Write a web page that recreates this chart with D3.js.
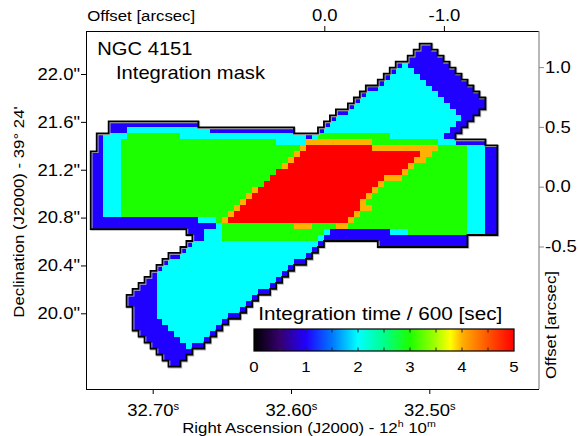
<!DOCTYPE html>
<html>
<head>
<meta charset="utf-8">
<script src="https://cdn.jsdelivr.net/npm/d3@7"></script>
<style>
  body { margin: 0; background: #fff; }
  text { font-family: "Liberation Sans", Arial, Helvetica, sans-serif; fill: #000; }
</style>
</head>
<body>
<svg id="chart" width="578" height="436"></svg>
<script>
// Integration mask of NGC 4151: integration time / 600 s per 0.05" pixel.
// Each row lists runs "firstCol-lastCol:value", row 0 is the northern edge.
const maskRows = [
  "55-56:1",
  "54-57:1",
  "53-58:1",
  "51:1 52:2 53-59:1",
  "50:1 51-53:2 54-60:1",
  "49:1 50-54:2 55-61:1",
  "48:1 49-55:2 56-62:1",
  "46-47:1 48-56:2 57-63:1",
  "45:1 46-57:2 58-64:1",
  "44:1 45-58:2 59-65:1",
  "43:1 44-59:2 60-65:1",
  "41-42:1 43-60:2 61-64:1",
  "40:1 41-61:2 62-63:1",
  "3-17:1 39:1 40-60:2 61-62:1",
  "3-5:1 6-19:2 20-33:1 38:1 39-59:2 60-61:1",
  "1:1 2-5:2 6-14:3 15-35:2 36:1 37:2 38-49:3 50-58:2 59-60:1",
  "1:1 2-4:2 5-30:3 31-35:2 36-46:4 47-57:3 58-60:2 61-65:1",
  "1:1 2-4:2 5-34:3 35:4 36-46:5 47-57:4 58-62:3 63-65:2 66-67:1",
  "0-1:1 2-4:2 5-33:3 34:4 35-54:5 55-56:4 57-62:3 63-65:2 66-67:1",
  "0-1:1 2-4:2 5-32:3 33:4 34-53:5 54-55:4 56-62:3 63-65:2 66-67:1",
  "0-1:1 2-4:2 5-31:3 32:4 33-52:5 53:4 54-62:3 63-65:2 66-67:1",
  "0-1:1 2-4:2 5-30:3 31-51:5 52:4 53-62:3 63-65:2 66-67:1",
  "0-1:1 2-4:2 5-29:3 30-48:5 49-51:4 52-62:3 63-65:2 66-67:1",
  "0-1:1 2-4:2 5-28:3 29-47:5 48:4 49-62:3 63-65:2 66-67:1",
  "0-1:1 2-4:2 5-26:3 27:4 28-46:5 47:4 48-62:3 63-65:2 66-67:1",
  "0-1:1 2-4:2 5-25:3 26:4 27-45:5 46:4 47-62:3 63-65:2 66-67:1",
  "0-1:1 2-4:2 5-24:3 25:4 26-44:5 45:4 46-62:3 63-65:2 66-67:1",
  "0-1:1 2-4:2 5-23:3 24:4 25-44:5 45-46:4 47-62:3 63-65:2 66-67:1",
  "0-1:1 2-4:2 5-22:3 23:4 24-43:5 44:4 45-62:3 63-65:2 66-67:1",
  "0-17:1 18-20:2 21:3 22:4 23-42:5 43:4 44-62:3 63-65:2 66-67:1",
  "0-20:1 21:2 22-33:3 34-36:4 37-40:3 41-42:4 43-62:3 63-65:2 66-67:1",
  "16-18:1 19-21:2 22-38:3 39:2 40-49:1 50-52:2 53-62:3 63-65:2 66-67:1",
  "17-18:1 19-21:2 22-37:3 38:2 39-62:1",
  "16:1 17-37:2 38:1 48-62:1",
  "15:1 16-36:2 37:1",
  "13-14:1 15-35:2 36:1",
  "12:1 13-33:2 34-35:1",
  "11:1 12-32:2 33:1",
  "10:1 11-31:2 32:1",
  "9-10:1 11-30:2 31:1",
  "8-10:1 11-29:2 30:1",
  "7-10:1 11-27:2 28-29:1",
  "6-10:1 11-26:2 27:1",
  "6-10:1 11-25:2 26:1",
  "7-10:1 11-24:2 25:1",
  "7-10:1 11-22:2 23-24:1",
  "7-11:1 12-21:2 22:1",
  "7-12:1 13-20:2 21:1",
  "8-13:1 14-19:2 20:1",
  "9-14:1 15-18:2 19:1",
  "10-15:1 16:2 17-18:1",
  "11-16:1",
  "12-15:1",
  "13-14:1"
];
const maskCols = 68;

// Axis ticks
const decTicks = [20.0, 20.4, 20.8, 21.2, 21.6, 22.0];      // Dec seconds of arc
const raTicks = [32.70, 32.60, 32.50];                        // RA seconds of time
const offsetTopTicks = [0.0, -1.0];                           // arcsec
const offsetRightTicks = [1.0, 0.5, 0.0, -0.5];               // arcsec

// Colour bar
const cbarLabels = [0, 1, 2, 3, 4, 5];
const cbarMarks = [0.5, 1, 1.5, 2, 2.5, 3, 3.5, 4, 4.5];
const cmapStops = [0, 0.5, 1, 1.5, 2, 2.5, 3, 3.5, 3.78, 4, 4.5, 5];
const cmapColors = ["#000000", "#36006e", "#2000ff", "#0078ff", "#00ffff", "#00ff8c",
                    "#1cff00", "#a6ff00", "#ffff00", "#ffb000", "#ff5400", "#ff0000"];

// Geometry of the pixel grid (arcsec offsets of the NW corner, pixel size)
const gridEast0 = 1.953, gridNorth0 = 1.196, pixArc = 0.05;

const svg = d3.select("#chart");
const frame = { left: 86, right: 539, top: 31, bottom: 389 };
const stretch = 1.12;

// Scales
const xOff = d3.scaleLinear().domain([0, -1]).range([324.3, 443.9]);
const yOff = d3.scaleLinear().domain([0, 1]).range([186.7, 67.1]);
const xRA = d3.scaleLinear().domain([32.70, 32.50]).range([152.7, 429.3]);
const yDec = d3.scaleLinear().domain([20.0, 22.0]).range([313.3, 74]);
const cmap = d3.scaleLinear().domain(cmapStops).range(cmapColors).clamp(true);
const xCol = c => xOff(gridEast0 - c * pixArc);
const yRow = r => yOff(gridNorth0 - r * pixArc);

// Decode rows into a value grid
const grid = maskRows.map(s => {
  const row = new Array(maskCols).fill(0);
  s.split(" ").forEach(tok => {
    const [rng, v] = tok.split(":");
    const [a, b] = rng.split("-").map(Number);
    for (let c = a; c <= (b === undefined ? a : b); c++) row[c] = +v;
  });
  return row;
});

// Runs of equal value for drawing
const runs = [];
grid.forEach((row, r) => {
  let c = 0;
  while (c < maskCols) {
    const v = row[c];
    let e = c;
    while (e + 1 < maskCols && row[e + 1] === v) e++;
    if (v > 0) runs.push({ r, c0: c, c1: e + 1, v });
    c = e + 1;
  }
});

const gMask = svg.append("g");
gMask.selectAll("rect").data(runs).join("rect")
  .attr("x", d => xCol(d.c0))
  .attr("y", d => yRow(d.r))
  .attr("width", d => xCol(d.c1) - xCol(d.c0))
  .attr("height", d => yRow(d.r + 1) - yRow(d.r))
  .attr("fill", d => cmap(d.v))
  .attr("shape-rendering", "crispEdges");

// Outline of the mask
const val = (r, c) => (r < 0 || r >= grid.length || c < 0 || c >= maskCols) ? 0 : grid[r][c];
let outline = "";
grid.forEach((row, r) => row.forEach((v, c) => {
  if (!v) return;
  const x0 = xCol(c), x1 = xCol(c + 1), y0 = yRow(r), y1 = yRow(r + 1);
  if (!val(r - 1, c)) outline += `M${x0},${y0}L${x1},${y0}`;
  if (!val(r + 1, c)) outline += `M${x0},${y1}L${x1},${y1}`;
  if (!val(r, c - 1)) outline += `M${x0},${y0}L${x0},${y1}`;
  if (!val(r, c + 1)) outline += `M${x1},${y0}L${x1},${y1}`;
}));
svg.append("path").attr("d", outline).attr("fill", "none")
  .attr("transform", "translate(0.8,0.8)")
  .attr("stroke", "#b4b4b4").attr("stroke-width", 2).attr("stroke-linecap", "square");
svg.append("path").attr("d", outline).attr("fill", "none")
  .attr("stroke", "#000").attr("stroke-width", 1.8).attr("stroke-linecap", "square");

// Horizontally widened text helper
function stretchText(sel) {
  sel.each(function () {
    const t = d3.select(this);
    const x = +t.attr("x") || 0, y = +t.attr("y") || 0;
    t.attr("x", 0).attr("y", 0).attr("transform", `translate(${x},${y}) scale(${stretch},1)`);
  });
}
function label(x, y, str, size, anchor = "start", rotate = 0) {
  return svg.append("text")
    .attr("transform", `translate(${x},${y}) rotate(${rotate}) scale(${stretch},1)`)
    .attr("text-anchor", anchor).attr("font-size", size).text(str);
}

// Axes
function styleAxis(g, size, color) {
  g.select(".domain").remove();
  g.selectAll(".tick line").attr("stroke", color).attr("stroke-width", 1);
  g.selectAll(".tick text").attr("font-size", size)
    .attr("font-family", "'Liberation Sans', Arial, sans-serif").attr("fill", "#000");
  stretchText(g.selectAll(".tick text"));
}
const gLeft = svg.append("g").attr("transform", `translate(${frame.left},0)`)
  .call(d3.axisLeft(yDec).tickValues(decTicks).tickSize(5).tickPadding(1)
    .tickFormat(d => d.toFixed(1) + "\""));
styleAxis(gLeft, 16.5, "#000");

const gBottom = svg.append("g").attr("transform", `translate(0,${frame.bottom})`)
  .call(d3.axisBottom(xRA).tickValues(raTicks).tickSize(5).tickPadding(10)
    .tickFormat(d => d.toFixed(2)));
gBottom.select(".domain").remove();
gBottom.selectAll(".tick line").attr("stroke", "#000");
gBottom.selectAll(".tick text").attr("font-size", 16.5).attr("fill", "#000")
  .attr("font-family", "'Liberation Sans', Arial, sans-serif")
  .each(function () {
    d3.select(this).append("tspan").attr("font-size", 10).attr("dy", "-0.62em").text("s");
  });
stretchText(gBottom.selectAll(".tick text"));

const gTop = svg.append("g").attr("transform", `translate(0,${frame.top})`)
  .call(d3.axisTop(xOff).tickValues(offsetTopTicks).tickSize(5).tickPadding(5)
    .tickFormat(d => d.toFixed(1)));
styleAxis(gTop, 16.5, "#000");

const gRight = svg.append("g").attr("transform", `translate(${frame.right},0)`)
  .call(d3.axisRight(yOff).tickValues(offsetRightTicks).tickSize(5).tickPadding(1)
    .tickFormat(d => d.toFixed(1)));
styleAxis(gRight, 16.5, "#888");

// Frame
svg.append("path")
  .attr("d", `M${frame.right},${frame.top}H${frame.left}V${frame.bottom}H${frame.right}`)
  .attr("fill", "none").attr("stroke", "#000").attr("stroke-width", 1)
  .attr("shape-rendering", "crispEdges");
svg.append("line")
  .attr("x1", frame.right).attr("x2", frame.right).attr("y1", frame.top).attr("y2", frame.bottom)
  .attr("stroke", "#888").attr("stroke-width", 1.2);

// Axis titles
label(87.3, 20.7, "Offset [arcsec]", 15);
const raTitle = label(309, 433, "Right Ascension (J2000) - 12", 15, "middle");
raTitle.append("tspan").attr("font-size", 9.5).attr("dy", -6).text("h");
raTitle.append("tspan").attr("dy", 6).text(" 10");
raTitle.append("tspan").attr("font-size", 9.5).attr("dy", -6).text("m");
label(23.5, 212, "Declination (J2000) - 39° 24'", 15, "middle", -90);
label(555.5, 325, "Offset [arcsec]", 15, "middle", -90);

// Titles
label(97.3, 55, "NGC 4151", 18);
label(116, 78.5, "Integration mask", 18);

// Colour bar
const cb = { x0: 254, x1: 514, y0: 329, y1: 351 };
const xCb = d3.scaleLinear().domain([0, 5]).range([cb.x0, cb.x1]);
const grad = svg.append("defs").append("linearGradient").attr("id", "cbarGrad")
  .attr("x1", "0%").attr("x2", "100%").attr("y1", "0%").attr("y2", "0%");
grad.selectAll("stop").data(cmapStops).join("stop")
  .attr("offset", d => (d / 5 * 100) + "%")
  .attr("stop-color", d => cmap(d));
svg.append("rect").attr("x", cb.x0).attr("y", cb.y0)
  .attr("width", cb.x1 - cb.x0).attr("height", cb.y1 - cb.y0)
  .attr("fill", "url(#cbarGrad)").attr("stroke", "#000").attr("stroke-width", 1.2);
svg.append("g").selectAll("path").data(cbarMarks).join("path")
  .attr("d", d => `M${xCb(d)},${cb.y0}v3.5M${xCb(d)},${cb.y1}v-3.5`)
  .attr("stroke", "#222").attr("stroke-width", 1);
svg.append("g").selectAll("text").data(cbarLabels).join("text")
  .attr("transform", d => `translate(${xCb(d)},371.5) scale(${stretch},1)`)
  .attr("text-anchor", "middle").attr("font-size", 15).text(d => d);
label(258.3, 320, "Integration time / 600 [sec]", 18.5);
</script>
</body>
</html>
